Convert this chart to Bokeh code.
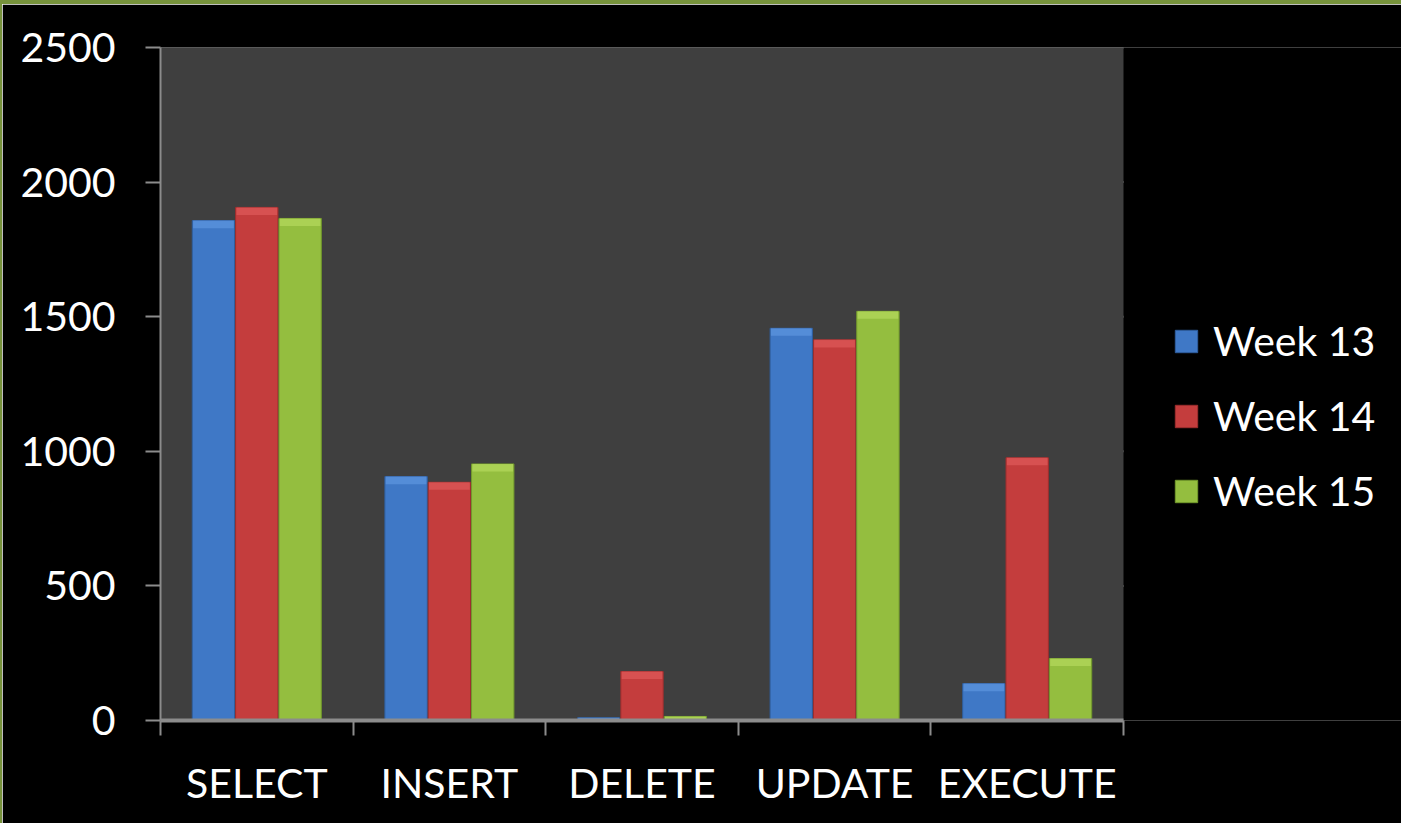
from bokeh.plotting import figure
from bokeh.models import FixedTicker, Legend, LegendItem, Range1d, BoxAnnotation
from bokeh.embed import file_html
from bokeh.resources import INLINE

categories = ["SELECT", "INSERT", "DELETE", "UPDATE", "EXECUTE"]
series_names = ["Week 13", "Week 14", "Week 15"]
week13 = [1857, 906, 10, 1457, 137]
week14 = [1906, 885, 182, 1414, 976]
week15 = [1865, 953, 15, 1520, 230]
y_ticks = [0, 500, 1000, 1500, 2000, 2500]

colors = ["#3F78C6", "#C43D3D", "#94BE3F"]
caps = ["#5A92DC", "#DC5656", "#B0D65A"]
edges = ["#2F5E9E", "#9E2E2E", "#739A2C"]
FONT = "Lato"
GRID = "#8C8C8C"

W, H = 1401, 823
LEFT, TOP, BOTTOM = 158, 43, 107
n = len(categories)
frame_w = W - LEFT
x_max = n * frame_w / 963.0  # plot area covers 963px, rest is legend area
y_max = y_ticks[-1]

p = figure(width=W, height=H, output_backend="svg", toolbar_location=None,
           x_range=Range1d(0, x_max), y_range=Range1d(0, y_max),
           min_border_left=LEFT, min_border_right=0, min_border_top=TOP, min_border_bottom=BOTTOM)
p.styles = {"border-top": "4px solid #77933C", "border-left": "2px solid #77933C"}
p.background_fill_color = "#000000"
p.border_fill_color = "#000000"
p.outline_line_color = None

p.add_layout(BoxAnnotation(left=0, right=n, bottom=0, top=y_max, fill_color="#3F3F3F",
                           fill_alpha=1, line_color=None, line_alpha=0, level="underlay"))

# horizontal gridlines limited to the plot area
grid_y = [t for t in y_ticks if t > 0]
p.segment(x0=[0] * len(grid_y), x1=[n] * len(grid_y), y0=grid_y, y1=grid_y,
          line_color=GRID, line_width=2, level="underlay")

offsets = [-0.225, 0.0, 0.225]
bar_w = 0.22
cap_h = 28
renderers = []
for k, vals in enumerate([week13, week14, week15]):
    xs = [i + 0.5 + offsets[k] for i in range(n)]
    r = p.vbar(x=xs, top=vals, bottom=0, width=bar_w, fill_color=colors[k],
               line_color=edges[k], line_width=1)
    p.vbar(x=xs, top=vals, bottom=[max(v - cap_h, 0) for v in vals], width=bar_w * 0.96,
           fill_color=caps[k], line_color=None, fill_alpha=0.8)
    renderers.append(r)

# x axis baseline limited to the plot area
p.segment(x0=[0], x1=[n], y0=[0], y1=[0], line_color=GRID, line_width=4, level="overlay")

# axes
xax = p.xaxis[0]
xax.ticker = FixedTicker(ticks=[i + 0.5 for i in range(n)], minor_ticks=list(range(n + 1)))
xax.major_label_overrides = {i + 0.5: c for i, c in enumerate(categories)}
xax.major_tick_line_color = None
xax.major_tick_out = 15
xax.minor_tick_out = 15
xax.minor_tick_in = 0
xax.minor_tick_line_color = GRID
xax.minor_tick_line_width = 2
xax.axis_line_color = None
xax.axis_line_alpha = 0
xax.major_label_text_color = "white"
xax.major_label_text_font = FONT
xax.major_label_text_font_size = "41px"
xax.major_label_standoff = 22

yax = p.yaxis[0]
yax.ticker = FixedTicker(ticks=y_ticks)
yax.major_tick_out = 15
yax.major_tick_in = 0
yax.minor_tick_line_color = None
yax.major_tick_line_color = GRID
yax.major_tick_line_width = 2
yax.axis_line_color = GRID
yax.axis_line_width = 2
yax.major_label_text_color = "white"
yax.major_label_text_font = FONT
yax.major_label_text_font_size = "41px"
yax.major_label_standoff = 30

p.xgrid.grid_line_color = None
p.ygrid.grid_line_color = None

legend = Legend(items=[LegendItem(label=s, renderers=[r]) for s, r in zip(series_names, renderers)],
                location=(1012, 205), orientation="vertical")
legend.background_fill_alpha = 0
legend.border_line_color = None
legend.label_text_color = "white"
legend.label_text_font = FONT
legend.label_text_font_size = "41px"
legend.glyph_width = 28
legend.glyph_height = 28
legend.label_standoff = 13
legend.spacing = 26
legend.padding = 0
legend.margin = 0
p.add_layout(legend, "center")

open("out.html", "w").write(file_html(p, INLINE))
